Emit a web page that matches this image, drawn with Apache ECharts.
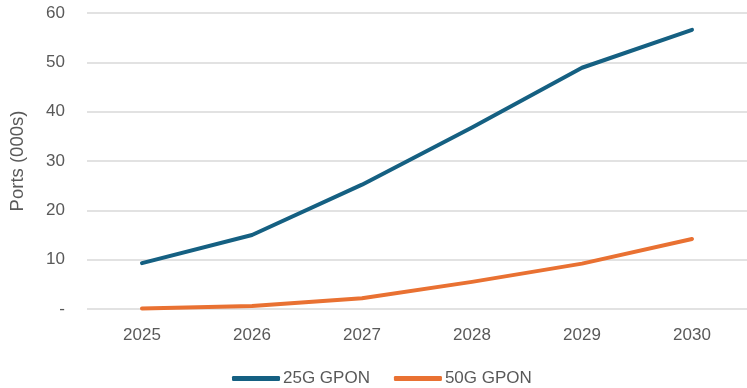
<!DOCTYPE html>
<html>
<head>
    <meta charset="UTF-8">
    <title>GPON ports</title>
    <script type="text/javascript" src="https://cdn.jsdelivr.net/npm/echarts@6/dist/echarts.min.js"></script>
    <style>
        body,html{
            margin: 0;
            width: 747px;
            height: 388px;
            background: #fff;
        }
        #chart{
            width: 747px;
            height: 388px;
        }
    </style>
</head>
<body>
<div id="chart"></div>
<script>
    // data
    var years = ['2025', '2026', '2027', '2028', '2029', '2030'];
    var gpon25 = [9.3, 15.0, 25.2, 36.8, 48.9, 56.6];
    var gpon50 = [0.1, 0.6, 2.2, 5.5, 9.2, 14.2];

    var textColor = '#595959';
    var font = 'Liberation Sans, Arial, sans-serif';

    var chart = echarts.init(document.getElementById('chart'));
    var option = {
        animation: false,
        grid: {
            left: 85,
            right: -5,
            top: 13,
            bottom: 79
        },
        legend: {
            top: 370,
            left: 232,
            itemWidth: 48,
            itemHeight: 5,
            itemGap: 24,
            padding: 0,
            icon: 'roundRect',
            textStyle: { color: textColor, fontSize: 17, fontFamily: font, padding: [0, 0, 0, -2] },
            data: ['25G GPON', '50G GPON']
        },
        xAxis: {
            type: 'category',
            data: years,
            boundaryGap: true,
            axisLine: { show: false },
            axisTick: { show: false },
            axisLabel: { color: textColor, fontSize: 17, fontFamily: font, margin: 18 }
        },
        yAxis: {
            type: 'value',
            min: 0,
            max: 60,
            interval: 10,
            name: 'Ports (000s)',
            nameLocation: 'middle',
            nameGap: 60,
            nameTextStyle: { color: textColor, fontSize: 18.5, fontFamily: font },
            axisLine: { show: false },
            axisTick: { show: false },
            axisLabel: {
                color: textColor, fontSize: 17, fontFamily: font, margin: 22,
                formatter: function (v) { return v === 0 ? '-' : v; }
            },
            splitLine: { lineStyle: { color: '#d9d9d9', width: 1.5 } }
        },
        series: [
            {
                name: '25G GPON',
                type: 'line',
                data: gpon25,
                symbol: 'none',
                color: '#156082',
                lineStyle: { width: 4, cap: 'round', join: 'round' }
            },
            {
                name: '50G GPON',
                type: 'line',
                data: gpon50,
                symbol: 'none',
                color: '#E97132',
                lineStyle: { width: 4, cap: 'round', join: 'round' }
            }
        ]
    };
    chart.setOption(option);
</script>
</body>
</html>
